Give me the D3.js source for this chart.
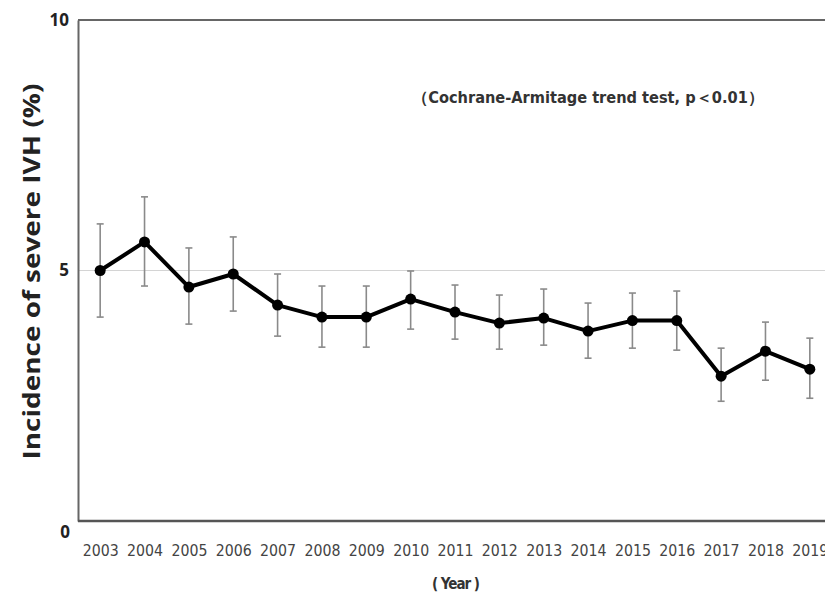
<!DOCTYPE html>
<html>
<head>
<meta charset="utf-8">
<script src="https://cdn.jsdelivr.net/npm/d3@7"></script>
<style>
  body { margin: 0; background: #fff; }
  svg { display: block; }
</style>
</head>
<body>
<script>
// incidence of severe IVH by year
var years = [2003, 2004, 2005, 2006, 2007, 2008, 2009, 2010, 2011, 2012, 2013, 2014, 2015, 2016, 2017, 2018, 2019];
var rate  = [5.0, 5.57, 4.67, 4.93, 4.31, 4.07, 4.07, 4.43, 4.17, 3.95, 4.05, 3.79, 4.0, 4.0, 2.89, 3.39, 3.03];
var upper = [5.93, 6.47, 5.45, 5.67, 4.93, 4.69, 4.69, 4.99, 4.71, 4.51, 4.63, 4.35, 4.55, 4.59, 3.45, 3.97, 3.65];
var lower = [4.07, 4.69, 3.93, 4.19, 3.69, 3.47, 3.47, 3.83, 3.63, 3.43, 3.51, 3.25, 3.45, 3.41, 2.39, 2.81, 2.45];
var yTicks = [0, 5, 10];

var width = 825, height = 595;

var svg = d3.select('body').append('svg')
    .attr('width', width)
    .attr('height', height);

// plot box runs off the right edge, like the cropped original
var x = d3.scaleLinear().domain([2002.5, 2019.5]).range([78, 832]);
var y = d3.scaleLinear().domain([0, 10]).range([521, 20]);

var data = years.map(function(yr, i){
    return {year: yr, v: rate[i], hi: upper[i], lo: lower[i]};
});

// reference line at 5
svg.append('line')
    .attr('x1', x.range()[0]).attr('x2', width)
    .attr('y1', y(5)).attr('y2', y(5))
    .attr('stroke', '#d4d4d4')
    .attr('stroke-width', 1);

// top of frame
svg.append('line')
    .attr('x1', x.range()[0]).attr('x2', width)
    .attr('y1', y(10)).attr('y2', y(10))
    .attr('stroke', '#666')
    .attr('stroke-width', 2);

// y axis
var yAxis = svg.append('g')
    .attr('transform', 'translate(' + x.range()[0] + ',0)')
    .call(d3.axisLeft(y).tickValues(yTicks).tickSize(0).tickPadding(8));
yAxis.select('.domain').attr('stroke', '#666').attr('stroke-width', 2);
yAxis.selectAll('text')
    .attr('font-family', '"Open Sans", "DejaVu Sans", sans-serif')
    .attr('font-weight', 'bold')
    .attr('font-size', 17)
    .attr('fill', '#222')
    .attr('dy', function(d){ return d === 0 ? '0.95em' : '0.32em'; })
    .attr('dx', function(d){ return d === 0 ? '0' : '-1'; });

// x axis
var xAxis = svg.append('g')
    .attr('transform', 'translate(0,' + y(0) + ')')
    .call(d3.axisBottom(x).tickValues(years).tickFormat(d3.format('d')).tickSize(0).tickPadding(24));
xAxis.select('.domain').attr('stroke', '#555').attr('stroke-width', 2.5)
    .attr('d', 'M' + x.range()[0] + ',0H' + width);
xAxis.selectAll('text')
    .attr('font-family', '"Liberation Sans Narrow", "DejaVu Sans Condensed", "Open Sans", sans-serif')
    .attr('font-size', 15)
    .attr('fill', '#444')
    .attr('textLength', 36)
    .attr('lengthAdjust', 'spacingAndGlyphs');

// error bars
var eb = svg.append('g').attr('stroke', '#8a8a8a').attr('stroke-width', 1.6);
eb.selectAll('.stem').data(data).join('line')
    .attr('class', 'stem')
    .attr('x1', d => x(d.year)).attr('x2', d => x(d.year))
    .attr('y1', d => y(d.hi)).attr('y2', d => y(d.lo));
eb.selectAll('.capHi').data(data).join('line')
    .attr('class', 'capHi')
    .attr('x1', d => x(d.year) - 3.5).attr('x2', d => x(d.year) + 3.5)
    .attr('y1', d => y(d.hi)).attr('y2', d => y(d.hi));
eb.selectAll('.capLo').data(data).join('line')
    .attr('class', 'capLo')
    .attr('x1', d => x(d.year) - 3.5).attr('x2', d => x(d.year) + 3.5)
    .attr('y1', d => y(d.lo)).attr('y2', d => y(d.lo));

// trend line
var line = d3.line().x(d => x(d.year)).y(d => y(d.v));
svg.append('path')
    .attr('d', line(data))
    .attr('fill', 'none')
    .attr('stroke', '#000')
    .attr('stroke-width', 4)
    .attr('stroke-linejoin', 'round');

svg.selectAll('.pt').data(data).join('circle')
    .attr('class', 'pt')
    .attr('cx', d => x(d.year))
    .attr('cy', d => y(d.v))
    .attr('r', 5.5)
    .attr('fill', '#000');

// axis titles
svg.append('text')
    .attr('transform', 'translate(40,' + y(4.98) + ') rotate(-90)')
    .attr('text-anchor', 'middle')
    .attr('font-family', '"Open Sans", "DejaVu Sans", sans-serif')
    .attr('font-weight', 'bold')
    .attr('font-size', 23)
    .attr('fill', '#222')
    .attr('textLength', 376)
    .attr('lengthAdjust', 'spacingAndGlyphs')
    .text('Incidence of severe IVH (%)');

svg.append('text')
    .attr('x', 456)
    .attr('y', 589)
    .attr('text-anchor', 'middle')
    .attr('font-family', '"Liberation Sans Narrow", "DejaVu Sans Condensed", sans-serif')
    .attr('font-weight', 'bold')
    .attr('font-size', 15)
    .attr('fill', '#333')
    .attr('textLength', 48)
    .attr('lengthAdjust', 'spacing')
    .text('( Year )');

svg.append('text')
    .attr('x', 412)
    .attr('y', 103)
    .attr('font-family', '"Liberation Sans Narrow", "DejaVu Sans Condensed", sans-serif')
    .attr('font-weight', 'bold')
    .attr('font-size', 16)
    .attr('fill', '#333')
    .attr('textLength', 352)
    .attr('lengthAdjust', 'spacingAndGlyphs')
    .text('（Cochrane-Armitage trend test, p＜0.01）');
</script>
</body>
</html>
